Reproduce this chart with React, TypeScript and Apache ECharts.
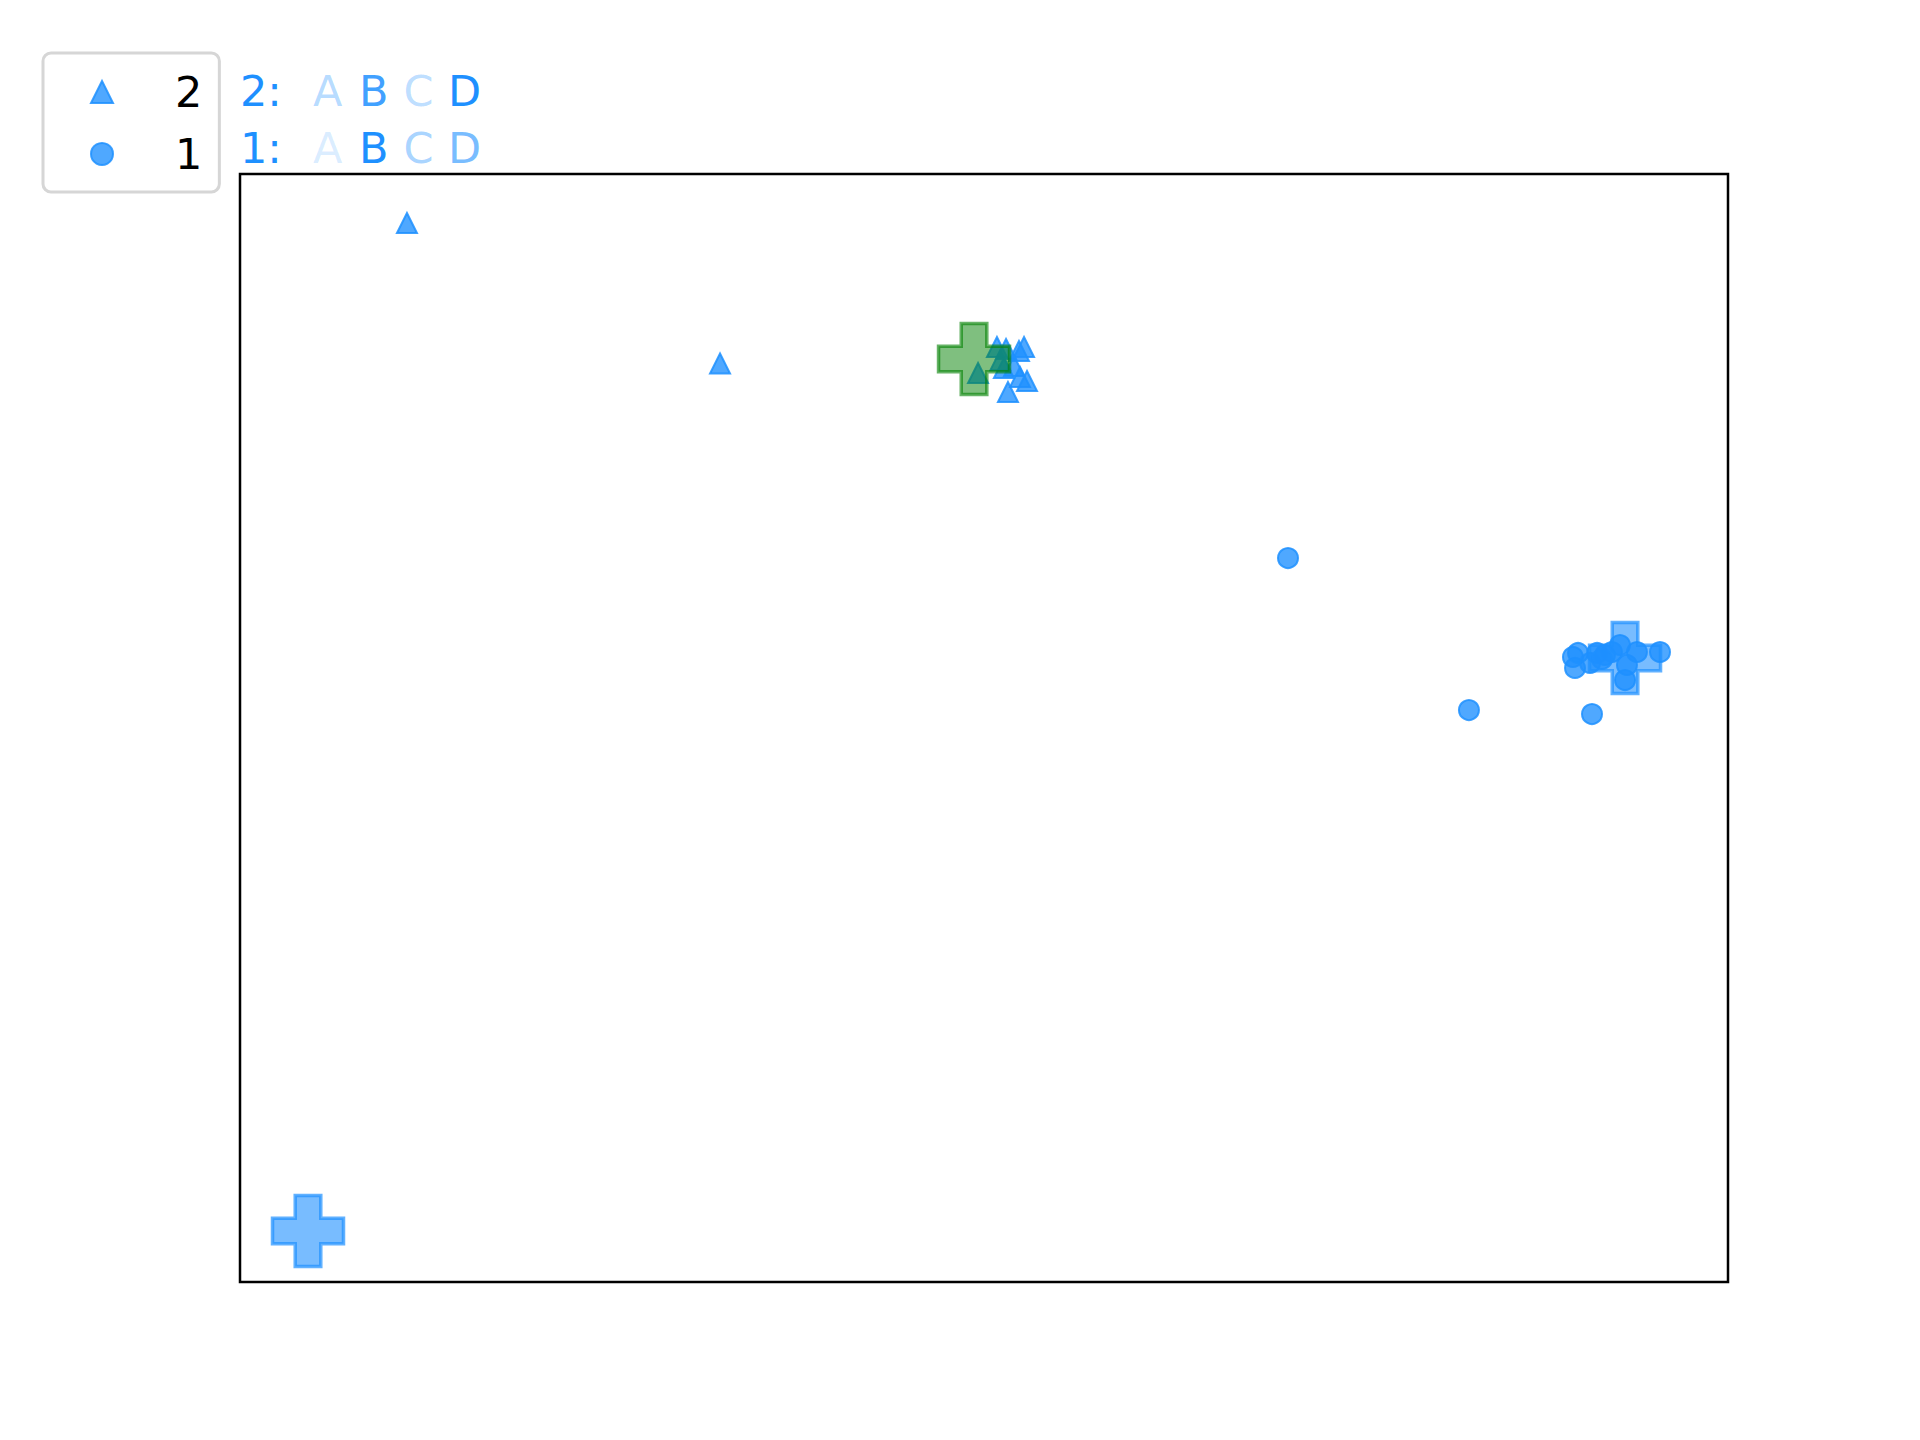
import React, { useEffect, useRef } from "react";
import * as echarts from "echarts";

// Series "2" (triangles)
const triX = [11.22, 32.26, 50.87, 51.48, 52.35, 52.69, 49.6, 51.34, 52.02, 52.42, 52.89, 51.61, 51.1];
const triY = [95.58, 82.9, 84.39, 84.21, 84.03, 84.39, 82.04, 82.49, 82.67, 81.68, 81.32, 80.33, 83.2];

// Series "1" (circles)
const circX = [70.43, 82.59, 90.86, 89.58, 89.72, 89.92, 90.73, 91.2, 91.73, 92.2, 92.74, 93.21, 93.08, 93.88, 95.43, 91.53];
const circY = [65.34, 51.62, 51.26, 56.41, 55.42, 56.77, 55.87, 56.77, 56.59, 56.86, 57.49, 55.69, 54.33, 56.86, 56.86, 56.23];

// Centre markers (plus shapes)
const centerX = [4.57, 93.08, 49.33];
const centerY = [4.6, 56.32, 83.3];
const centerGroup = ["1", "1", "2"];

// Legend labels and letter rows
const legendNames = ["2", "1"];
const letters = ["A", "B", "C", "D"];
const rowLabels = ["2:", "1:"];
const rowAlphas = [
  [0.33, 0.85, 0.3, 1.0],
  [0.17, 1.0, 0.4, 0.6],
];

const BLUE = "30,144,255";
const PLUS_PATH = "path://M32,0 H68 V32 H100 V68 H68 V100 H32 V68 H0 V32 H32 Z";
const FONT = "DejaVu Sans";

export default function App() {
  const ref = useRef<HTMLDivElement>(null);

  useEffect(() => {
    document.body.style.margin = "0";
    const chart = echarts.init(ref.current!, null, { renderer: "svg" });

    const centerStyle: Record<string, any> = {
      "1": { color: `rgba(${BLUE},0.6)`, borderColor: `rgba(${BLUE},0.7)` },
      "2": { color: "rgba(0,128,0,0.5)", borderColor: "rgba(0,128,0,0.6)" },
    };

    const rowY = [91, 148];
    const letterX = [313, 359, 403.5, 448];
    const graphics: any[] = [];
    rowLabels.forEach((lab, r) => {
      graphics.push({
        type: "text",
        left: 240,
        top: rowY[r] - 26,
        style: { text: lab, fill: `rgb(${BLUE})`, fontSize: 43, fontFamily: FONT, lineHeight: 52, verticalAlign: "top" },
      });
      letters.forEach((L, i) => {
        graphics.push({
          type: "text",
          left: letterX[i],
          top: rowY[r] - 26,
          style: {
            text: L,
            fill: `rgba(${BLUE},${rowAlphas[r][i]})`,
            fontSize: 43,
            fontFamily: FONT,
            lineHeight: 52,
            verticalAlign: "top",
          },
        });
      });
    });

    chart.setOption({
      animation: false,
      backgroundColor: "#fff",
      grid: {
        show: true,
        left: 240,
        top: 174,
        width: 1488,
        height: 1108,
        borderColor: "#000",
        borderWidth: 2.5,
      },
      xAxis: { type: "value", min: 0, max: 100, show: false },
      yAxis: { type: "value", min: 0, max: 100, show: false },
      legend: {
        orient: "vertical",
        left: 43,
        top: 53,
        padding: [13, 17, 12, 47],
        itemGap: 10,
        itemWidth: 22,
        itemHeight: 22,
        borderColor: "#d6d6d6",
        borderWidth: 3,
        borderRadius: 8,
        data: [
          { name: legendNames[0], icon: "triangle" },
          { name: legendNames[1], icon: "circle" },
        ],
        textStyle: {
          color: "#000",
          fontSize: 43,
          fontFamily: FONT,
          lineHeight: 52,
          padding: [0, 0, 0, 57],
        },
      },
      graphic: graphics,
      series: [
        {
          name: legendNames[0],
          type: "scatter",
          symbol: "triangle",
          symbolSize: 20,
          z: 2,
          itemStyle: { color: `rgba(${BLUE},0.78)`, borderColor: `rgba(${BLUE},0.85)`, borderWidth: 2, opacity: 1 },
          data: triX.map((x, i) => [x, triY[i]]),
        },
        {
          name: legendNames[1],
          type: "scatter",
          symbol: "circle",
          symbolSize: 20,
          z: 2,
          itemStyle: { color: `rgba(${BLUE},0.78)`, borderColor: `rgba(${BLUE},0.85)`, borderWidth: 2, opacity: 1 },
          data: circX.map((x, i) => [x, circY[i]]),
        },
        {
          name: "centres",
          type: "scatter",
          symbol: PLUS_PATH,
          symbolSize: 71,
          z: 3,
          data: centerX.map((x, i) => ({
            value: [x, centerY[i]],
            itemStyle: { ...centerStyle[centerGroup[i]], borderWidth: 3.5, opacity: 1 },
          })),
        },
      ],
    });

    return () => chart.dispose();
  }, []);

  return <div ref={ref} style={{ width: 1920, height: 1440 }} />;
}
